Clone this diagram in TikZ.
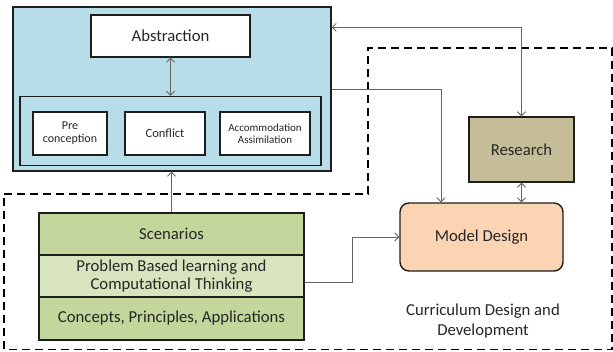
\documentclass[tikz,border=0pt]{standalone}
\usepackage{fontspec}
\setmainfont{Carlito}
\usetikzlibrary{arrows.meta}
\definecolor{aquafill}{RGB}{183,221,232}
\definecolor{tanfill}{RGB}{196,189,151}
\definecolor{peachfill}{RGB}{251,212,180}
\definecolor{olivefill}{RGB}{195,214,155}
\definecolor{olivelight}{RGB}{215,228,189}
\definecolor{linkgray}{RGB}{100,100,100}
\definecolor{edgedark}{RGB}{30,30,30}
\tikzset{
  box/.style={draw=edgedark, line width=1.4pt, inner sep=0pt, align=center,
    text=black!85},
  bigtext/.style={font=\fontsize{16.7}{19}\selectfont},
  link/.style={draw=linkgray, line width=0.8pt, -{Straight Barb[length=4pt,width=8pt]}},
  dlink/.style={draw=linkgray, line width=0.8pt, {Straight Barb[length=4pt,width=8pt]}-{Straight Barb[length=4pt,width=8pt]}},
  region/.style={draw=black, line width=1.8pt, dash pattern=on 8pt off 5pt},
}
\begin{document}
\begin{tikzpicture}[x=1pt, y=-1pt]
\useasboundingbox (0,0) rectangle (613,351);

% dashed outline of the curriculum region
\draw[region] (4,194) -- (368,194) -- (368,48) -- (612,48) -- (612,349.5) -- (4,349.5) -- cycle;

% conceptual change block
\node[box, fill=aquafill, minimum width=318pt, minimum height=164pt] (blue) at (172,89) {};
\node[box, fill=white, minimum width=159pt, minimum height=42pt, bigtext] (abs) at (170.5,36) {Abstraction};
\node[box, fill=aquafill, minimum width=301pt, minimum height=69pt] (inner) at (170.5,131) {};
\node[box, fill=white, minimum width=74pt, minimum height=43pt, font=\fontsize{12}{14}\selectfont] (pre) at (70,133.5) {Pre\\[-1pt]conception};
\node[box, fill=white, minimum width=80pt, minimum height=43pt, font=\fontsize{12.5}{14}\selectfont] (conf) at (165,133.5) {Conflict};
\node[box, fill=white, minimum width=90pt, minimum height=43pt, font=\fontsize{11}{13}\selectfont] (acc) at (265,133.5) {Accommodation\\[-1pt]Assimilation};

% research and model design
\node[box, fill=tanfill, minimum width=105pt, minimum height=65pt, bigtext] (res) at (521.5,149.5) {Research};
\node[box, fill=peachfill, rounded corners=9pt, minimum width=163pt, minimum height=68pt, bigtext] (model) at (481.5,237) {Model Design};

% scenario stack
\node[box, fill=olivefill, minimum width=265pt, minimum height=42pt, bigtext] (scen) at (171.5,234) {Scenarios};
\node[box, fill=olivelight, minimum width=265pt, minimum height=42pt, font=\fontsize{16.7}{19.5}\selectfont] (pbl) at (171.5,276) {Problem Based learning and\\[-1pt]Computational Thinking};
\node[box, fill=olivefill, minimum width=265pt, minimum height=43pt, bigtext] (cpa) at (171.5,318.5) {Concepts, Principles, Applications};

% region caption
\node[align=center, font=\fontsize{16.7}{20}\selectfont, text=black!85] (cap) at (483,321) {Curriculum Design and\\Development};

% connectors
\draw[dlink] (abs.south) -- (inner.north);
\draw[link] (scen.north) -- (scen.north |- blue.south);
\draw[dlink] ([yshift=-21pt]blue.north east) -| (res.north);
\draw[dlink] (res.south) -- (res.south |- model.north);
\draw[link] (blue.east) -| ([xshift=-40.5pt]model.north);
\draw[link] ([yshift=-6pt]pbl.east) -- ++(48,0) |- (model.west);
\end{tikzpicture}
\end{document}
